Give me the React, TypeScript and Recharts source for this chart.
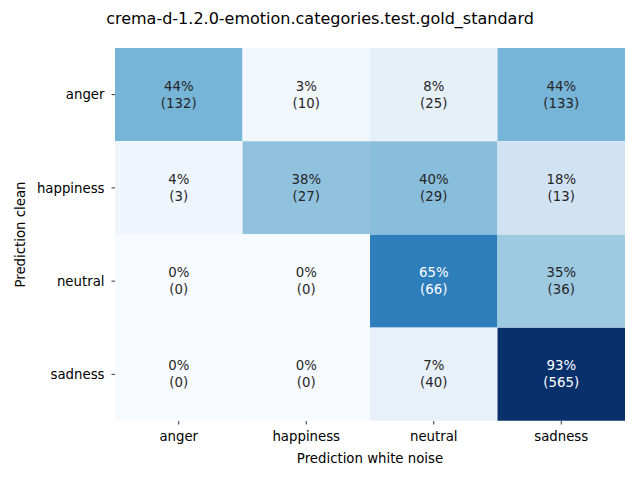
import React from 'react';
import { BarChart, Bar, XAxis, YAxis, Cell, LabelList, Label } from 'recharts';

const ROWS = ['anger', 'happiness', 'neutral', 'sadness'];
const COLS = ['anger', 'happiness', 'neutral', 'sadness'];

// row-normalised percentages (rows: prediction clean, cols: prediction white noise)
const PCT = [
  [44, 3, 8, 44],
  [4, 38, 40, 18],
  [0, 0, 65, 35],
  [0, 0, 7, 93],
];
const COUNTS = [
  [132, 10, 25, 133],
  [3, 27, 29, 13],
  [0, 0, 66, 36],
  [0, 0, 40, 565],
];

// matplotlib "Blues"
const BLUES = ['#f7fbff', '#deebf7', '#c6dbef', '#9ecae1', '#6baed6', '#4292c6', '#2171b5', '#08519c', '#08306b'];

const hex = (c: string) => [1, 3, 5].map((i) => parseInt(c.slice(i, i + 2), 16));

function blues(t: number) {
  const v = Math.max(0, Math.min(1, t)) * (BLUES.length - 1);
  const i = Math.min(Math.floor(v), BLUES.length - 2);
  const f = v - i;
  const a = hex(BLUES[i]);
  const b = hex(BLUES[i + 1]);
  const rgb = a.map((x, k) => Math.round(x + (b[k] - x) * f));
  return `rgb(${rgb.join(',')})`;
}

const VMAX = Math.max(...PCT.flat());

const data = ROWS.map((row) => {
  const o: Record<string, any> = { row };
  COLS.forEach((_, c) => { o[`c${c}`] = 1; });
  return o;
});

const FONT = 'DejaVu Sans, sans-serif';

function cellLabel(c: number) {
  return (props: any) => {
    const { x, y, width, height, index } = props;
    const p = PCT[index][c];
    const fill = p / VMAX > 0.6 ? '#ffffff' : '#262626';
    const cx = x + width / 2;
    const cy = y + height / 2;
    return (
      <text x={cx} y={cy} textAnchor="middle" fontFamily={FONT} fontSize={13.3} fill={fill}>
        <tspan x={cx} dy={-4}>{p}%</tspan>
        <tspan x={cx} dy={17}>({COUNTS[index][c]})</tspan>
      </text>
    );
  };
}

export default function App() {
  return (
    <div style={{ position: 'absolute', left: 0, top: 0, width: 640, height: 480, background: '#fff' }}>
      <div style={{
        position: 'absolute', top: 9, left: 0, width: 640, textAlign: 'center',
        fontFamily: FONT, fontSize: 16, color: '#000',
      }}>
        crema-d-1.2.0-emotion.categories.test.gold_standard
      </div>
      <BarChart
        width={640}
        height={480}
        data={data}
        layout="vertical"
        barCategoryGap={0}
        margin={{ top: 48, right: 15, bottom: 0, left: 0 }}
      >
        <XAxis
          type="number"
          domain={[0, 4]}
          ticks={[0.5, 1.5, 2.5, 3.5]}
          tickFormatter={(v: number) => COLS[Math.floor(v)]}
          axisLine={false}
          tickSize={3.5}
          tickMargin={7}
          height={59}
          tick={{ fontFamily: FONT, fontSize: 13.3, fill: '#000' }}
          tickLine={{ stroke: '#000', strokeWidth: 0.8 }}
        >
          <Label value="Prediction white noise" position="insideBottom" offset={17}
            style={{ fontFamily: FONT, fontSize: 13.3, fill: '#000' }} />
        </XAxis>
        <YAxis
          type="category"
          dataKey="row"
          width={115}
          axisLine={false}
          tickSize={3.5}
          tickMargin={7}
          tick={{ fontFamily: FONT, fontSize: 13.3, fill: '#000' }}
          tickLine={{ stroke: '#000', strokeWidth: 0.8 }}
        >
          <Label
            content={(props: any) => {
              const vb = props.viewBox;
              const x = vb.x + 20;
              const y = vb.y + vb.height / 2;
              return (
                <text x={x} y={y} transform={`rotate(-90 ${x} ${y})`} textAnchor="middle"
                  dominantBaseline="central" fontFamily={FONT} fontSize={13.3} fill="#000">
                  Prediction clean
                </text>
              );
            }}
          />
        </YAxis>
        {COLS.map((col, c) => (
          <Bar key={col} dataKey={`c${c}`} stackId="m" isAnimationActive={false}>
            {ROWS.map((row, r) => (
              <Cell key={row} fill={blues(PCT[r][c] / VMAX)} />
            ))}
            <LabelList dataKey={`c${c}`} content={cellLabel(c)} />
          </Bar>
        ))}
      </BarChart>
    </div>
  );
}
